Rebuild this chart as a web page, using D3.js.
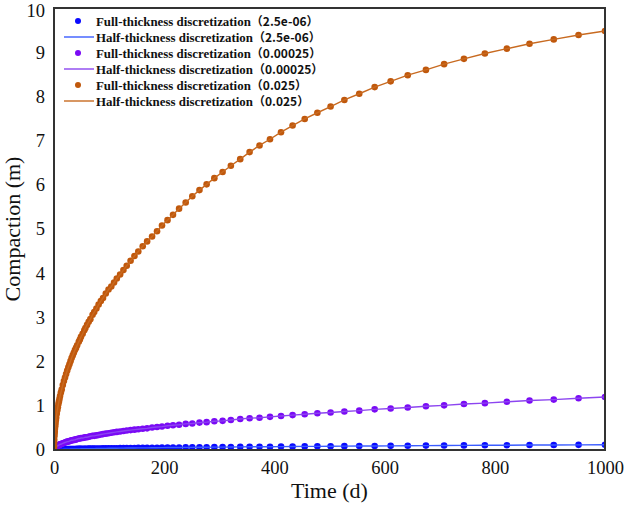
<!DOCTYPE html>
<html>
<head>
<meta charset="utf-8">
<script src="https://cdn.jsdelivr.net/npm/d3@7"></script>
<style>
  body { margin: 0; background: #fff; }
  svg text { font-family: "Liberation Serif", "Times New Roman", "Noto Serif CJK SC", "Noto Sans CJK SC", serif; }
</style>
</head>
<body>
<div id="graph"></div>
<script>
// time steps (d), log spaced
var time = [0, 0.05, 0.2, 0.4, 0.7, 1, 1.3, 1.7, 2.2, 2.7, 3.3, 4, 5, 6, 7, 8, 9, 10, 11, 12.5, 14, 16, 18, 20,
  22, 24, 26, 28, 30, 32, 34, 36, 38, 40, 42, 45, 47, 49, 52, 55, 57, 60, 63, 66, 70, 73, 77, 81, 85, 89,
  94, 99, 104, 109, 114, 120, 126, 132, 139, 146, 153, 161, 169, 178, 187, 196, 206, 216, 227, 239, 251,
  264, 277, 291, 306, 321, 338, 355, 373, 392, 412, 433, 455, 478, 502, 527, 554, 582, 611, 642, 675, 708,
  744, 782, 822, 863, 907, 952, 1000];

// compaction (m), cv = 2.5e-06
var blue = [0, 0.001, 0.002, 0.002, 0.003, 0.004, 0.004, 0.005, 0.006, 0.006, 0.007, 0.008, 0.009, 0.009, 0.010, 0.011, 0.011, 0.012, 0.013, 0.013, 0.014, 0.015, 0.016, 0.017,
  0.018, 0.019, 0.019, 0.020, 0.021, 0.022, 0.022, 0.023, 0.023, 0.024, 0.025, 0.026, 0.026, 0.027, 0.027, 0.028, 0.029, 0.029, 0.030, 0.031, 0.032, 0.032, 0.033, 0.034, 0.035, 0.036,
  0.037, 0.038, 0.039, 0.040, 0.041, 0.042, 0.043, 0.044, 0.045, 0.046, 0.047, 0.048, 0.049, 0.051, 0.052, 0.053, 0.055, 0.056, 0.057, 0.059, 0.060,
  0.062, 0.063, 0.065, 0.066, 0.068, 0.070, 0.072, 0.073, 0.075, 0.077, 0.079, 0.081, 0.083, 0.085, 0.087, 0.089, 0.092, 0.094, 0.096, 0.099, 0.101,
  0.104, 0.106, 0.109, 0.112, 0.114, 0.117, 0.120];

// compaction (m), cv = 0.00025
var purple = [0, 0.008, 0.017, 0.024, 0.032, 0.038, 0.043, 0.049, 0.056, 0.062, 0.069, 0.076, 0.085, 0.09, 0.10, 0.11, 0.11, 0.12, 0.13, 0.13, 0.14, 0.15, 0.16, 0.17,
  0.18, 0.19, 0.19, 0.20, 0.21, 0.22, 0.22, 0.23, 0.23, 0.24, 0.25, 0.26, 0.26, 0.27, 0.27, 0.28, 0.29, 0.29, 0.30, 0.31, 0.32, 0.32, 0.33, 0.34, 0.35, 0.36,
  0.37, 0.38, 0.39, 0.40, 0.41, 0.42, 0.43, 0.44, 0.45, 0.46, 0.47, 0.48, 0.49, 0.51, 0.52, 0.53, 0.55, 0.56, 0.57, 0.59, 0.60,
  0.62, 0.63, 0.65, 0.66, 0.68, 0.70, 0.72, 0.73, 0.75, 0.77, 0.79, 0.81, 0.83, 0.85, 0.87, 0.89, 0.92, 0.94, 0.96, 0.99, 1.01,
  1.04, 1.06, 1.09, 1.12, 1.14, 1.17, 1.20];

// compaction (m), cv = 0.025
var orange = [0, 0.08, 0.17, 0.23, 0.31, 0.37, 0.42, 0.48, 0.54, 0.60, 0.67, 0.73, 0.82, 0.90, 0.97, 1.04, 1.10, 1.16, 1.22, 1.30, 1.37, 1.47, 1.56, 1.64,
  1.72, 1.80, 1.87, 1.94, 2.01, 2.08, 2.14, 2.20, 2.26, 2.31, 2.37, 2.45, 2.50, 2.56, 2.63, 2.71, 2.76, 2.83, 2.90, 2.96, 3.06, 3.12, 3.20, 3.29, 3.37, 3.44,
  3.54, 3.63, 3.70, 3.79, 3.88, 3.97, 4.07, 4.17, 4.28, 4.39, 4.49, 4.61, 4.72, 4.83, 4.95, 5.08, 5.20, 5.32, 5.46, 5.60, 5.74,
  5.88, 6.01, 6.15, 6.29, 6.43, 6.58, 6.74, 6.89, 7.03, 7.19, 7.34, 7.49, 7.63, 7.77, 7.92, 8.06, 8.21, 8.34, 8.48, 8.60, 8.73,
  8.85, 8.97, 9.08, 9.19, 9.29, 9.39, 9.48];

var xTicks = [0, 200, 400, 600, 800, 1000];
var yTicks = [0, 1, 2, 3, 4, 5, 6, 7, 8, 9, 10];

var series = [
  { name: "2.5e-06", values: blue, dot: "#0a0aff", line: "#3a5cff" },
  { name: "0.00025", values: purple, dot: "#7a0af5", line: "#8c45f0" },
  { name: "0.025", values: orange, dot: "#c0580c", line: "#c86a20" }
];

var width = 624, height = 516;
var margin = { top: 8, right: 19, bottom: 66, left: 54 };
var w = width - margin.left - margin.right;
var h = height - margin.top - margin.bottom;

var svg = d3.select("#graph").append("svg")
  .attr("width", width)
  .attr("height", height);

var g = svg.append("g")
  .attr("transform", "translate(" + margin.left + "," + margin.top + ")");

var x = d3.scaleLinear().domain([0, 1000]).range([0, w]);
var y = d3.scaleLinear().domain([0, 10]).range([h, 0]);

g.append("defs").append("clipPath").attr("id", "clip")
  .append("rect").attr("width", w).attr("height", h);

// axes
var xAxis = g.append("g")
  .attr("transform", "translate(0," + h + ")")
  .call(d3.axisBottom(x).tickValues(xTicks).tickFormat(d3.format("d")).tickSize(0).tickPadding(11));
var yAxis = g.append("g")
  .call(d3.axisLeft(y).tickValues(yTicks).tickFormat(d3.format("d")).tickSize(0).tickPadding(9));

[xAxis, yAxis].forEach(function(a) {
  a.select(".domain").remove();
  a.selectAll("text")
    .attr("font-size", 18.5)
    .attr("fill", "#111");
});
yAxis.selectAll("text").filter(function(d) { return d == 10; }).attr("dy", "0.45em");

var plot = g.append("g").attr("clip-path", "url(#clip)");

var line = d3.line()
  .x(function(d, i) { return x(time[i]); })
  .y(function(d) { return y(d); });

series.forEach(function(s) {
  plot.selectAll(null)
    .data(s.values)
    .enter()
    .append("circle")
    .attr("cx", function(d, i) { return x(time[i]); })
    .attr("cy", function(d) { return y(d); })
    .attr("r", 3.3)
    .attr("fill", s.dot);

  plot.append("path")
    .datum(s.values)
    .attr("d", line)
    .attr("fill", "none")
    .attr("stroke", s.line)
    .attr("stroke-width", 1.4);
});

// frame
g.append("rect")
  .attr("width", w)
  .attr("height", h)
  .attr("fill", "none")
  .attr("stroke", "#333")
  .attr("stroke-width", 2);

// axis titles
svg.append("text")
  .attr("x", margin.left + w / 2)
  .attr("y", 498)
  .attr("text-anchor", "middle")
  .attr("font-size", 22)
  .attr("fill", "#111")
  .text("Time (d)");

svg.append("text")
  .attr("transform", "translate(20," + (margin.top + h / 2) + ") rotate(-90)")
  .attr("text-anchor", "middle")
  .attr("font-size", 22)
  .attr("fill", "#111")
  .text("Compaction (m)");

// legend
var legend = g.append("g").attr("transform", "translate(10,13)");
var rows = [];
series.forEach(function(s) {
  rows.push({ label: "Full-thickness discretization", tag: "（" + s.name + "）", s: s, kind: "dot" });
  rows.push({ label: "Half-thickness discretization", tag: "（" + s.name + "）", s: s, kind: "line" });
});

rows.forEach(function(r, i) {
  var row = legend.append("g").attr("transform", "translate(0," + (i * 16) + ")");
  if (r.kind == "dot") {
    row.append("circle").attr("cx", 14).attr("cy", 0).attr("r", 3).attr("fill", r.s.dot);
  } else {
    row.append("line").attr("x1", 0).attr("x2", 30).attr("y1", 0).attr("y2", 0)
      .attr("stroke", r.s.line).attr("stroke-width", 1.4);
  }
  var t = row.append("text")
    .attr("x", 32)
    .attr("y", 4.5)
    .attr("font-size", 12.9)
    .attr("font-weight", "bold")
    .attr("fill", "#111")
    .style("font-family", '"Liberation Serif", serif');
  t.append("tspan").text(r.label);
  t.append("tspan")
    .style("font-family", '"Noto Sans CJK SC", "Liberation Serif", serif')
    .attr("font-size", 12)
    .text(r.tag);
});
</script>
</body>
</html>
